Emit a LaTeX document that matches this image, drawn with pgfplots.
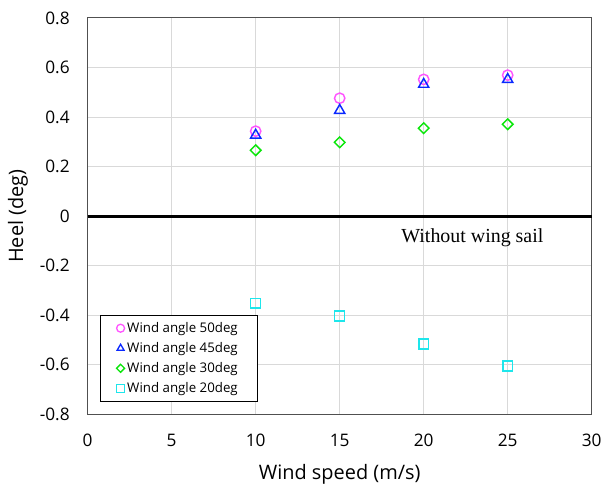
\documentclass[border=0pt]{standalone}
\usepackage{pgfplots}
\pgfplotsset{compat=1.18}
\usepackage{fontspec}
\setmainfont{Open Sans}
\newfontfamily\serifx{Liberation Serif}
\definecolor{c50}{RGB}{255,85,255}
\definecolor{c45}{RGB}{10,40,255}
\definecolor{c30}{RGB}{10,230,10}
\definecolor{c20}{RGB}{30,230,235}
\definecolor{axgray}{RGB}{80,80,80}
\definecolor{gridgray}{RGB}{217,217,217}
\pgfdeclareplotmark{sdiamond}{%
  \pgfpathmoveto{\pgfqpoint{0pt}{\pgfplotmarksize}}%
  \pgfpathlineto{\pgfqpoint{\pgfplotmarksize}{0pt}}%
  \pgfpathlineto{\pgfqpoint{0pt}{-\pgfplotmarksize}}%
  \pgfpathlineto{\pgfqpoint{-\pgfplotmarksize}{0pt}}%
  \pgfpathclose
  \pgfusepathqstroke}
\pgfdeclareplotmark{ssquare}{%
  \pgfpathrectangle{\pgfqpoint{-\pgfplotmarksize}{-\pgfplotmarksize}}{\pgfqpoint{2\pgfplotmarksize}{2\pgfplotmarksize}}%
  \pgfusepathqstroke}
\begin{document}
\begin{tikzpicture}
\begin{axis}[
  scale only axis,
  width=379.5pt, height=298.5pt,
  xmin=0, xmax=30, ymin=-0.8, ymax=0.8,
  xtick={0,5,...,30}, ytick={-0.8,-0.6,...,0.8},
  yticklabel style={/pgf/number format/fixed,/pgf/number format/precision=1, xshift=-10pt},
  xticklabel style={yshift=-11pt},
  /pgf/number format/assume math mode=true,
  tick label style={font=\fontsize{13}{15}\selectfont},
  label style={font=\fontsize{15}{18}\selectfont, inner sep=0pt},
  xlabel={Wind speed (m/s)}, ylabel={Heel (deg)},
  xlabel style={at={(axis description cs:0.5,-0.1508)}, anchor=center},
  ylabel style={at={(axis description cs:-0.1383,0.5)}, anchor=center},
  major tick length=0pt,
  grid=major, grid style={gridgray, line width=0.75pt},
  axis line style={axgray, line width=0.7pt},
  legend style={at={(0.0237,0.0327)}, anchor=south west, draw=black, line width=0.6pt,
    font=\fontsize{10}{11.5}\selectfont, row sep=2pt, inner xsep=12.5pt, inner ysep=3pt,
    cells={anchor=west}},
  legend image post style={mark size=3pt, line width=1pt},
  legend cell align=left,
  clip=false,
]
\addplot[only marks, mark=o, mark size=3.9pt, color=c50, line width=1.1pt] coordinates {(10,0.343) (15,0.476) (20,0.552) (25,0.569)};
\addlegendentry{Wind angle 50deg}
\addplot[only marks, mark=triangle, mark size=4.4pt, color=c45, line width=1.1pt] coordinates {(10,0.327) (15,0.427) (20,0.532) (25,0.552)};
\addlegendentry{Wind angle 45deg}
\addplot[only marks, mark=sdiamond, mark size=4pt, color=c30, line width=1.1pt] coordinates {(10,0.266) (15,0.298) (20,0.355) (25,0.371)};
\addlegendentry{Wind angle 30deg}
\addplot[only marks, mark=ssquare, mark size=3.7pt, color=c20, line width=1.1pt] coordinates {(10,-0.351) (15,-0.403) (20,-0.516) (25,-0.605)};
\addlegendentry{Wind angle 20deg}
\draw[black, line width=2.1pt] (axis cs:0,0) -- (axis cs:30,0);
\node[font=\serifx\fontsize{15}{17}\selectfont] at (axis cs:22.9,-0.089) {Without wing sail};
\path (rel axis cs:0,0) ++(-66pt,-55.5pt);
\path (rel axis cs:1,1) ++(9pt,13.5pt);
\end{axis}
\end{tikzpicture}
\end{document}
